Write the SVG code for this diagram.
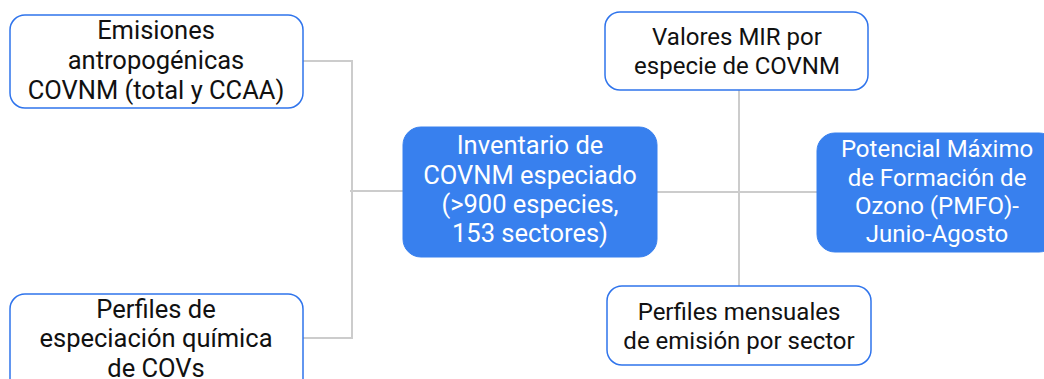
<svg xmlns="http://www.w3.org/2000/svg" width="1044" height="379" viewBox="0 0 1044 379">
<style>
.w{fill:#ffffff;stroke:#2f74ec;stroke-width:1.5}
.b{fill:#3880ee;stroke:#3880ee;stroke-width:1}
.t{font-family:Roboto,"Liberation Sans",sans-serif;font-size:25.5px;text-anchor:middle;fill:#111111}
.tw{font-family:Roboto,"Liberation Sans",sans-serif;font-size:25.5px;text-anchor:middle;fill:#ffffff}
.s{font-size:24px}
.c{fill:none;stroke:#cccccc;stroke-width:2}
</style>
<rect width="1044" height="379" fill="#ffffff"/>
<g id="connectors">
<polyline class="c" points="303,61 352,61 352,338 303,338"/>
<line class="c" x1="350" y1="191" x2="403" y2="191"/>
<line class="c" x1="739" y1="90" x2="739" y2="286"/>
<line class="c" x1="657" y1="192" x2="817" y2="192"/>
</g>
<g id="n1">
<rect class="w" x="10" y="15" width="293" height="93" rx="15"/>
<text class="t" x="156" y="39">Emisiones</text>
<text class="t" x="156" y="69">antropogénicas</text>
<text class="t" x="156" y="99">COVNM (total y CCAA)</text>
</g>
<g id="n2">
<rect class="w" x="10" y="294" width="293" height="100" rx="15"/>
<text class="t" x="156" y="318">Perfiles de</text>
<text class="t" x="156" y="347">especiación química</text>
<text class="t" x="156" y="377">de COVs</text>
</g>
<g id="n3">
<rect class="b" x="403" y="127" width="254" height="130" rx="18"/>
<text class="tw" x="530" y="154">Inventario de</text>
<text class="tw" x="530" y="184">COVNM especiado</text>
<text class="tw" x="530" y="213">(&gt;900 especies,</text>
<text class="tw" x="530" y="242">153 sectores)</text>
</g>
<g id="n4">
<rect class="w" x="605" y="12" width="263" height="78" rx="15"/>
<text class="t s" x="737" y="45">Valores MIR por</text>
<text class="t s" x="737" y="74">especie de COVNM</text>
</g>
<g id="n5">
<rect class="w" x="607" y="286" width="264" height="79" rx="15"/>
<text class="t s" x="739" y="320">Perfiles mensuales</text>
<text class="t s" x="739" y="349">de emisión por sector</text>
</g>
<g id="n6">
<rect class="b" x="817" y="133" width="240" height="119" rx="18"/>
<text class="tw s" x="937" y="157">Potencial Máximo</text>
<text class="tw s" x="937" y="186">de Formación de</text>
<text class="tw s" x="937" y="214">Ozono (PMFO)-</text>
<text class="tw s" x="937" y="242">Junio-Agosto</text>
</g>
</svg>
